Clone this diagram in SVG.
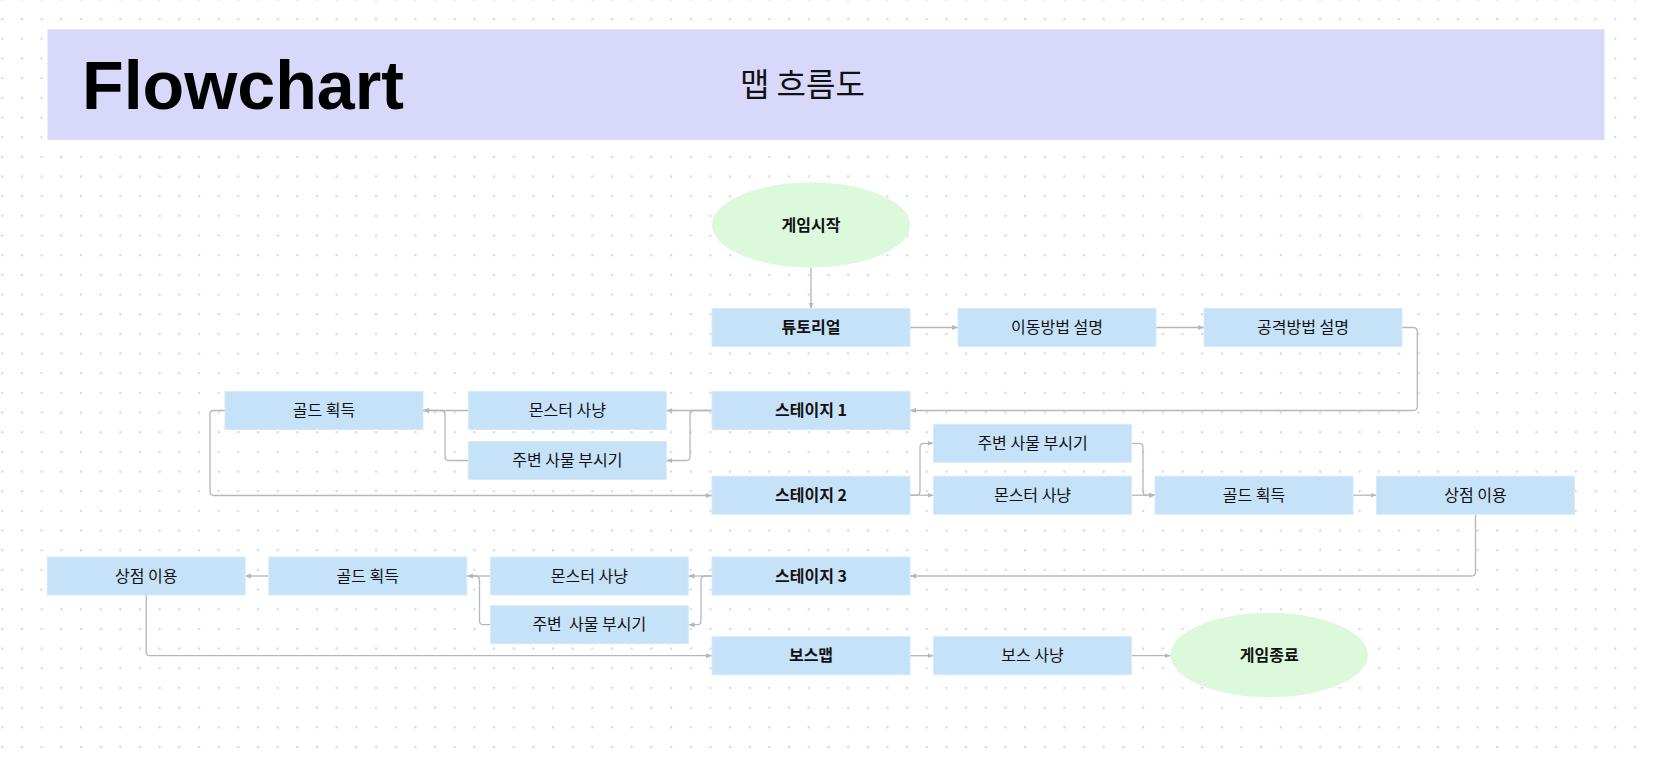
<svg xmlns="http://www.w3.org/2000/svg" width="1653" height="761" viewBox="0 0 1653 761">
<defs>
<pattern id="dots" x="1.2" y="-1.6" width="19.67" height="19.67" patternUnits="userSpaceOnUse">
<rect width="2.2" height="2.2" fill="#d9d9e0"/>
</pattern>
<marker id="arr" viewBox="0 0 6 6" refX="6" refY="3" markerWidth="6" markerHeight="6" markerUnits="userSpaceOnUse" orient="auto">
<path d="M0,0.5 L6,3 L0,5.5 z" fill="#b3b7be"/>
</marker>
<style>
.n rect{fill:#c6e2f9;stroke:#d6eafb;stroke-width:1}
.e ellipse{fill:#dcf9dc}
.t{font-family:"Noto Sans CJK KR","Noto Sans",sans-serif;font-size:16px;fill:#111;text-anchor:middle}
.b{font-weight:bold}
.c path{fill:none;stroke:#b3b7be;stroke-width:1.3;marker-end:url(#arr)}
</style>
</defs>
<rect width="1653" height="761" fill="#ffffff"/>
<rect width="1653" height="761" fill="url(#dots)"/>

<g id="header">
<rect x="47.5" y="29.3" width="1557" height="110.7" fill="#d8d9fa"/>
<text x="82" y="109" font-family="'Liberation Sans',Arial,sans-serif" font-weight="bold" font-size="69" textLength="322" lengthAdjust="spacingAndGlyphs" fill="#000">Flowchart</text>
<text x="740" y="96" font-family="'Noto Sans CJK KR',sans-serif" font-size="32" fill="#111">맵 흐름도</text>
</g>

<g id="connectors" class="c">
<path d="M811 267.5 V308.5"/>
<path d="M910 327.5 H958"/>
<path d="M1156 327.5 H1204"/>
<path d="M1402 327.5 H1413 Q1417.3 327.5 1417.3 331.5 V406.5 Q1417.3 410.5 1413 410.5 H910"/>
<path d="M712 410.5 H666.3"/>
<path d="M712 410.5 H694 Q690 410.5 690 414.5 V456.5 Q690 460.5 686 460.5 H666.3"/>
<path d="M468.3 410.5 H423"/>
<path d="M468.3 460.5 H449 Q445 460.5 445 456.5 V414.5 Q445 410.5 441 410.5 H423"/>
<path d="M225 410.5 H214 Q210 410.5 210 414.5 V491.5 Q210 495.5 214 495.5 H712"/>
<path d="M910 495.2 H916 Q920 495.2 920 491.2 V447.3 Q920 443.3 924 443.3 H933.5"/>
<path d="M910 495.2 H933.5"/>
<path d="M1131.5 443.3 H1139 Q1143 443.3 1143 447.3 V491.2 Q1143 495.2 1147 495.2 H1155"/>
<path d="M1131.5 495.2 H1155"/>
<path d="M1353 495.2 H1376.5"/>
<path d="M1475.5 514.2 V572 Q1475.5 576 1471.5 576 H910"/>
<path d="M712 576 H688.5"/>
<path d="M712 576 H705 Q701 576 701 580 V620.7 Q701 624.7 697 624.7 H688.5"/>
<path d="M490.3 576 H466.8"/>
<path d="M490.3 624.7 H483.5 Q479.5 624.7 479.5 620.7 V580 Q479.5 576 475.5 576 H466.8"/>
<path d="M268.8 576 H245.2"/>
<path d="M146.2 595 V651.7 Q146.2 655.7 150.2 655.7 H712"/>
<path d="M910 655.7 H933.5"/>
<path d="M1131.5 655.7 H1170.5"/>
</g>

<g id="start" class="e"><ellipse cx="811" cy="225" rx="99" ry="42.5"/><text class="t b" x="811" y="230.5">게임시작</text></g>
<g id="tutorial" class="n"><rect x="712" y="308.5" width="198" height="38"/><text class="t b" x="811" y="333">튜토리얼</text></g>
<g id="move" class="n"><rect x="958" y="308.5" width="198" height="38"/><text class="t" x="1057" y="333">이동방법 설명</text></g>
<g id="attack" class="n"><rect x="1204" y="308.5" width="198" height="38"/><text class="t" x="1303" y="333">공격방법 설명</text></g>

<g id="stage1" class="n"><rect x="712" y="391.5" width="198" height="38"/><text class="t b" x="811" y="416">스테이지 1</text></g>
<g id="s1-monster" class="n"><rect x="468.3" y="391.5" width="198" height="38"/><text class="t" x="567.3" y="416">몬스터 사냥</text></g>
<g id="s1-gold" class="n"><rect x="225" y="391.5" width="198" height="38"/><text class="t" x="324" y="416">골드 획득</text></g>
<g id="s1-break" class="n"><rect x="468.3" y="441.5" width="198" height="38"/><text class="t" x="567.3" y="466">주변 사물 부시기</text></g>

<g id="stage2" class="n"><rect x="712" y="476.2" width="198" height="38"/><text class="t b" x="811" y="500.7">스테이지 2</text></g>
<g id="s2-break" class="n"><rect x="933.5" y="424.3" width="198" height="38"/><text class="t" x="1032.5" y="448.8">주변 사물 부시기</text></g>
<g id="s2-monster" class="n"><rect x="933.5" y="476.2" width="198" height="38"/><text class="t" x="1032.5" y="500.7">몬스터 사냥</text></g>
<g id="s2-gold" class="n"><rect x="1155" y="476.2" width="198" height="38"/><text class="t" x="1254" y="500.7">골드 획득</text></g>
<g id="s2-shop" class="n"><rect x="1376.5" y="476.2" width="198" height="38"/><text class="t" x="1475.5" y="500.7">상점 이용</text></g>

<g id="stage3" class="n"><rect x="712" y="557" width="198" height="38"/><text class="t b" x="811" y="581.5">스테이지 3</text></g>
<g id="s3-monster" class="n"><rect x="490.3" y="557" width="198" height="38"/><text class="t" x="589.3" y="581.5">몬스터 사냥</text></g>
<g id="s3-gold" class="n"><rect x="268.8" y="557" width="198" height="38"/><text class="t" x="367.8" y="581.5">골드 획득</text></g>
<g id="s3-shop" class="n"><rect x="47.2" y="557" width="198" height="38"/><text class="t" x="146.2" y="581.5">상점 이용</text></g>
<g id="s3-break" class="n"><rect x="490.3" y="605.7" width="198" height="38"/><text class="t" x="589.3" y="630.2" xml:space="preserve">주변  사물 부시기</text></g>

<g id="bossmap" class="n"><rect x="712" y="636.7" width="198" height="38"/><text class="t b" x="811" y="661.2">보스맵</text></g>
<g id="bosshunt" class="n"><rect x="933.5" y="636.7" width="198" height="38"/><text class="t" x="1032.5" y="661.2">보스 사냥</text></g>
<g id="end" class="e"><ellipse cx="1269.2" cy="655" rx="98.7" ry="42.2"/><text class="t b" x="1269.2" y="660.5">게임종료</text></g>
</svg>
